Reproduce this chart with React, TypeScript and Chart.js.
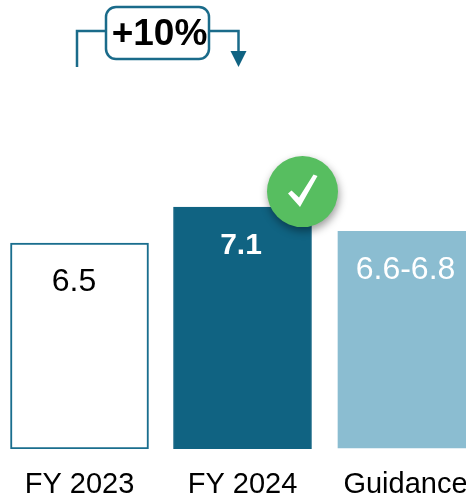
import { useEffect, useRef } from "react";
import { Chart, registerables } from "chart.js";

Chart.register(...registerables);

const categories = ["FY 2023", "FY 2024", "Guidance"];
const values = [6.5, 7.1, 6.7];
const valueLabels = ["6.5", "7.1", "6.6-6.8"];
const growthLabel = "+10%";
const axisMin = 3.07;
const axisMax = 10.55;
const fills = ["#ffffff", "#106382", "#8bbdd1"];
const borders = ["#1a6e8e", "#106382", "rgba(0,0,0,0)"];
const labelColors = ["#000000", "#ffffff", "#ffffff"];
const labelFonts = ["32px 'Liberation Sans'", "bold 30px 'Liberation Sans'", "32px 'Liberation Sans'"];

const overlay = {
  id: "overlay",
  afterDatasetsDraw(chart: any) {
    const { ctx, scales } = chart;
    const bars = chart.getDatasetMeta(0).data;
    const labelShift = [-5.5, -1.5, 0];
    ctx.save();
    ctx.textAlign = "center";
    ctx.textBaseline = "middle";
    bars.forEach((bar: any, i: number) => {
      ctx.font = labelFonts[i];
      ctx.fillStyle = labelColors[i];
      ctx.fillText(valueLabels[i], bar.x + labelShift[i], bar.y + 39);
    });

    // growth bracket
    const x0 = scales.x.getPixelForValue(0) - 2.5;
    const x1 = scales.x.getPixelForValue(1) - 4;
    const boxL = 108;
    const boxR = 211;
    const boxT = 7;
    const boxB = 59;
    const lineY = 31;
    ctx.strokeStyle = "#1a6b8a";
    ctx.lineWidth = 2.5;
    ctx.beginPath();
    ctx.moveTo(x0, 67);
    ctx.lineTo(x0, lineY);
    ctx.lineTo(boxL, lineY);
    ctx.moveTo(boxR, lineY);
    ctx.lineTo(x1, lineY);
    ctx.lineTo(x1, 52);
    ctx.stroke();
    ctx.fillStyle = "#106382";
    ctx.beginPath();
    ctx.moveTo(x1 - 8, 51);
    ctx.lineTo(x1 + 8, 51);
    ctx.lineTo(x1, 67);
    ctx.closePath();
    ctx.fill();
    ctx.fillStyle = "#ffffff";
    ctx.beginPath();
    ctx.roundRect(boxL, boxT, boxR - boxL, boxB - boxT, 10);
    ctx.fill();
    ctx.stroke();
    ctx.fillStyle = "#000000";
    ctx.font = "bold 37px 'Liberation Sans'";
    ctx.fillText(growthLabel, (boxL + boxR) / 2 + 2, 35);

    // check badge on the FY 2024 bar corner
    const dark = bars[1];
    const cx = dark.x + dark.width / 2 - 9;
    const cy = dark.y - 15.5;
    ctx.save();
    ctx.shadowColor = "rgba(0,0,0,0.4)";
    ctx.shadowBlur = 8;
    ctx.shadowOffsetX = 1;
    ctx.shadowOffsetY = 4;
    ctx.fillStyle = "#57be60";
    ctx.beginPath();
    ctx.arc(cx, cy, 35.5, 0, Math.PI * 2);
    ctx.fill();
    ctx.restore();
    ctx.fillStyle = "#ffffff";
    ctx.beginPath();
    ctx.moveTo(cx - 14.5, cy + 2);
    ctx.lineTo(cx - 11, cy - 1);
    ctx.lineTo(cx - 3.5, cy + 6);
    ctx.lineTo(cx + 11, cy - 17);
    ctx.lineTo(cx + 15, cy - 15.5);
    ctx.lineTo(cx - 2.5, cy + 15.5);
    ctx.closePath();
    ctx.fill();
    ctx.restore();
  },
};

export default function App() {
  const ref = useRef<HTMLCanvasElement>(null);
  useEffect(() => {
    const chart = new Chart(ref.current!, {
      type: "bar",
      data: {
        labels: categories,
        datasets: [
          {
            data: values,
            base: axisMin,
            backgroundColor: fills,
            borderColor: borders,
            borderWidth: [2, 1, { left: 1.5, top: 0, right: 0, bottom: 1 }] as any,
            borderSkipped: false,
            barThickness: 138,
          },
        ],
      },
      options: {
        responsive: false,
        animation: false,
        layout: { padding: 0 },
        plugins: { legend: { display: false }, tooltip: { enabled: false } },
        scales: {
          y: { display: false, min: axisMin, max: axisMax },
          x: {
            afterFit: (axis: any) => {
              axis.height = 45;
            },
            grid: { display: false },
            border: { display: false },
            ticks: {
              color: "#000000",
              font: { family: "'Liberation Sans'", size: 29 },
              padding: 11,
              maxRotation: 0,
              autoSkip: false,
            },
          },
        },
      },
      plugins: [overlay],
    });
    return () => chart.destroy();
  }, []);
  return (
    <div style={{ position: "fixed", left: 0, top: 0, width: 466, height: 494, overflow: "hidden", background: "#fff" }}>
      <canvas ref={ref} width={489} height={494} style={{ position: "absolute", left: -2, top: 0 }} />
    </div>
  );
}
